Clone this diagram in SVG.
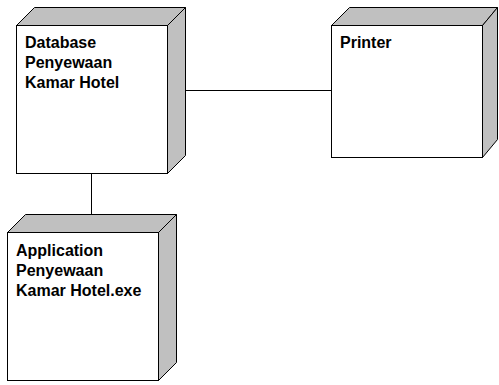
<svg xmlns="http://www.w3.org/2000/svg" width="499" height="385" viewBox="0 0 499 385">
<style>
.side{fill:#c0c0c0;stroke:#000;stroke-width:1;stroke-linejoin:miter}
.front{fill:#fff;stroke:#000;stroke-width:1}
.lbl{font-family:"Liberation Sans",Arial,sans-serif;font-weight:bold;font-size:16px;fill:#000}
.conn{stroke:#000;stroke-width:1;fill:none}
</style>
<rect width="499" height="385" fill="#fff"/>
<g id="connectors">
<line class="conn" x1="185.5" y1="90.5" x2="331" y2="90.5"/>
<line class="conn" x1="91.5" y1="174" x2="91.5" y2="214"/>
</g>
<g id="node-database">
<polygon class="side" points="16.5,25.5 34.5,7.5 185.5,7.5 167.5,25.5"/>
<polygon class="side" points="167.5,25.5 185.5,7.5 185.5,155.5 167.5,173.5"/>
<rect class="front" x="16.5" y="25.5" width="151" height="148"/>
<text class="lbl" x="25" y="48">Database</text>
<text class="lbl" x="25" y="68">Penyewaan</text>
<text class="lbl" x="25" y="88">Kamar Hotel</text>
</g>
<g id="node-printer">
<polygon class="side" points="331.5,25.5 349.5,7.5 497.5,7.5 482.5,25.5"/>
<polygon class="side" points="482.5,25.5 497.5,7.5 497.5,139.5 482.5,157.5"/>
<rect class="front" x="331.5" y="25.5" width="151" height="132"/>
<text class="lbl" x="340" y="48">Printer</text>
</g>
<g id="node-application">
<polygon class="side" points="7.5,232.5 25.5,214.5 176.5,214.5 158.5,232.5"/>
<polygon class="side" points="158.5,232.5 176.5,214.5 176.5,362.5 158.5,380.5"/>
<rect class="front" x="7.5" y="232.5" width="151" height="148"/>
<text class="lbl" x="16" y="256">Application</text>
<text class="lbl" x="16" y="276">Penyewaan</text>
<text class="lbl" x="16" y="296">Kamar Hotel.exe</text>
</g>
</svg>
